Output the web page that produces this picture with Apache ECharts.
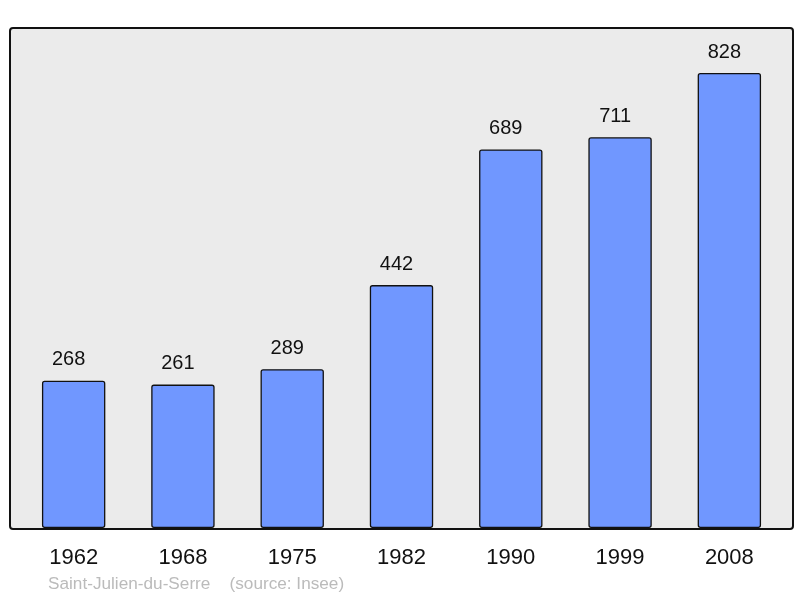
<!DOCTYPE html>
<html><head><meta charset="utf-8">
<script src="https://cdn.jsdelivr.net/npm/echarts@6/dist/echarts.min.js"></script>
<style>html,body{margin:0;padding:0;background:#fff}#c{width:800px;height:598px}</style>
</head><body><div id="c"></div>
<script>
const years = ['1962','1968','1975','1982','1990','1999','2008'];
const population = [268, 261, 289, 442, 689, 711, 828];
const footer = 'Saint-Julien-du-Serre    (source: Insee)';

const chart = echarts.init(document.getElementById('c'), null, {renderer:'canvas'});
chart.setOption({
  animation: false,
  backgroundColor: '#ffffff',
  graphic: [
    {type:'rect', left:9, top:27, z:-10, shape:{width:783, height:501, r:3},
     style:{fill:'#ebebeb', stroke:'#111', lineWidth:2}},
    {type:'text', left:48, top:576, style:{text:footer, fill:'#bbbbbb', font:'17.2px "Liberation Sans", Arial, sans-serif'}}
  ],
  grid: {left:19, right:16, top:27.5, bottom:70, containLabel:false},
  xAxis: {
    type:'category', data: years,
    axisLine:{show:false}, axisTick:{show:false},
    axisLabel:{color:'#111', fontSize:22, fontFamily:'"Liberation Sans", Arial, sans-serif', margin:19}
  },
  yAxis: {type:'value', min:0, max:910.8, show:false, splitLine:{show:false}},
  series: [{
    type:'bar', data: population, barWidth:'58%',
    itemStyle:{color:'#7097ff', borderColor:'#111', borderWidth:1.3, borderRadius:2},
    label:{show:true, position:'top', distance:11, offset:[-5,0], color:'#111', fontSize:20,
           fontFamily:'"Liberation Sans", Arial, sans-serif'}
  }]
});
</script></body></html>
